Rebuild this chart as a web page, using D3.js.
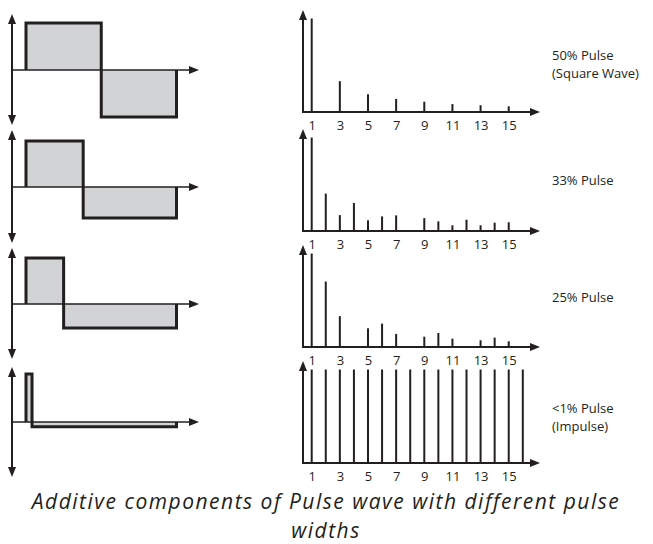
<!DOCTYPE html>
<html><head><meta charset="utf-8">
<script src="https://cdn.jsdelivr.net/npm/d3@7"></script>
<style>body{margin:0;background:#fff} svg{display:block}</style>
</head><body><svg id="c" width="653" height="544"></svg>
<script>
// ---- data ----
const panelLabels = [["50% Pulse", "(Square Wave)"], ["33% Pulse"], ["25% Pulse"], ["<1% Pulse", "(Impulse)"]];
const fallPoints = [0.5, 0.38, 0.25, 0.04];      // fraction of period where pulse falls
const highLevels = [1.0, 0.98, 0.98, 1.02];
const lowLevels = [-1.0, -0.66, -0.51, -0.1];
const harmonics = [1, 2, 3, 4, 5, 6, 7, 8, 9, 10, 11, 12, 13, 14, 15, 16];
const spectrum50 = [1.0, 0, 0.33, 0, 0.19, 0, 0.14, 0, 0.11, 0, 0.085, 0, 0.072, 0, 0.061];
const spectrum33 = [1.0, 0.40, 0.17, 0.30, 0.114, 0.156, 0.167, 0, 0.138, 0.103, 0.061, 0.121, 0.061, 0.089, 0.093];
const spectrum25 = [1.0, 0.70, 0.33, 0, 0.20, 0.25, 0.14, 0, 0.11, 0.15, 0.089, 0, 0.072, 0.10, 0.061];
const spectrumImpulse = [1, 1, 1, 1, 1, 1, 1, 1, 1, 1, 1, 1, 1, 1, 1, 1];
const tickLabels = [1, 3, 5, 7, 9, 11, 13, 15];
const titleLines = ["Additive components of Pulse wave with different pulse", "widths"];

const spectra = [spectrum50, spectrum33, spectrum25, spectrumImpulse];

// ---- layout ----
const INK = "#231f20", FILL = "#d1d3d4", FONT = "'Open Sans', Lato, sans-serif";
const leftAxisY = [70, 187, 304, 422];
const leftVTop = [14, 130, 248, 367], leftVBot = [125, 243, 359, 477];
const rightAxisY = [112, 231, 347, 463];
const labelBaseY = [60, 185, 302, 413];

const svg = d3.select("#c");

function arrow(g, x, y, dir) {
  const L = 10, W = 4;
  let p;
  if (dir === "up") p = [[x, y], [x - W, y + L], [x + W, y + L]];
  else if (dir === "down") p = [[x, y], [x - W, y - L], [x + W, y - L]];
  else p = [[x, y], [x - L, y - W], [x - L, y + W]];
  g.append("path").attr("d", d3.line()(p) + "Z").attr("fill", INK);
}

// left waveform panels
const xt = d3.scaleLinear().domain([0, 1]).range([26, 176.5]);
const vAxisX = 12, hAxisEnd = 199;
fallPoints.forEach((f, i) => {
  const g = svg.append("g");
  const ay = leftAxisY[i];
  const y = d3.scaleLinear().domain([-1, 1]).range([ay + 47, ay - 47]);
  const pts = [[0, 0], [0, highLevels[i]], [f, highLevels[i]], [f, lowLevels[i]], [1, lowLevels[i]], [1, 0]];
  const line = d3.line().x(d => xt(d[0])).y(d => y(d[1]));
  g.append("path").attr("d", line(pts) + "Z").attr("fill", FILL).attr("stroke", "none");
  g.append("path").attr("d", line(pts)).attr("fill", "none").attr("stroke", INK)
    .attr("stroke-width", 3).attr("stroke-linejoin", "miter");
  g.append("line").attr("x1", vAxisX).attr("x2", hAxisEnd - 8).attr("y1", y(0)).attr("y2", y(0))
    .attr("stroke", INK).attr("stroke-width", 1.5);
  arrow(g, hAxisEnd, y(0), "right");
  g.append("line").attr("x1", vAxisX).attr("x2", vAxisX).attr("y1", leftVTop[i] + 8).attr("y2", leftVBot[i] - 8)
    .attr("stroke", INK).attr("stroke-width", 2);
  arrow(g, vAxisX, leftVTop[i], "up");
  arrow(g, vAxisX, leftVBot[i], "down");
});

// right spectrum panels
const xh = d3.scaleLinear().domain([1, 16]).range([311.7, 522.8]);
const sAxisX = 303, sAxisEnd = 540;
spectra.forEach((vals, i) => {
  const g = svg.append("g");
  const ay = rightAxisY[i];
  const y = d3.scaleLinear().domain([0, 1]).range([ay, ay - 93.5]);
  g.selectAll("line.bar").data(vals.map((v, k) => ({ h: harmonics[k], v })).filter(d => d.v > 0))
    .enter().append("line").attr("class", "bar")
    .attr("x1", d => xh(d.h)).attr("x2", d => xh(d.h))
    .attr("y1", y(0)).attr("y2", d => y(d.v))
    .attr("stroke", INK).attr("stroke-width", 2);
  g.append("line").attr("x1", sAxisX).attr("x2", sAxisEnd - 8).attr("y1", y(0)).attr("y2", y(0))
    .attr("stroke", INK).attr("stroke-width", 2);
  arrow(g, sAxisEnd, y(0), "right");
  g.append("line").attr("x1", sAxisX).attr("x2", sAxisX).attr("y1", y(0) + 1).attr("y2", y(1.09) + 8)
    .attr("stroke", INK).attr("stroke-width", 2);
  arrow(g, sAxisX, y(1.09), "up");
  const ax = g.append("g").attr("transform", `translate(0,${ay})`)
    .call(d3.axisBottom(xh).tickValues(tickLabels).tickSize(0).tickPadding(9).tickFormat(d3.format("d")));
  ax.select(".domain").remove();
  ax.selectAll("text").attr("fill", INK).style("font-family", FONT).style("font-size", "13px");
  const t = svg.append("text").attr("fill", INK)
    .style("font-family", FONT).style("font-size", "13px");
  panelLabels[i].forEach((s, k) => t.append("tspan").attr("x", 552).attr("y", labelBaseY[i] + k * 17.5).text(s));
});

// title
titleLines.forEach((s, k) => {
  svg.append("text").attr("x", 326).attr("y", 508.5 + k * 29).attr("text-anchor", "middle")
    .attr("fill", INK).style("font-family", FONT).style("font-style", "italic").style("font-size", "21px")
    .style("letter-spacing", "1.5px")
    .text(s);
});
</script>
</body></html>
